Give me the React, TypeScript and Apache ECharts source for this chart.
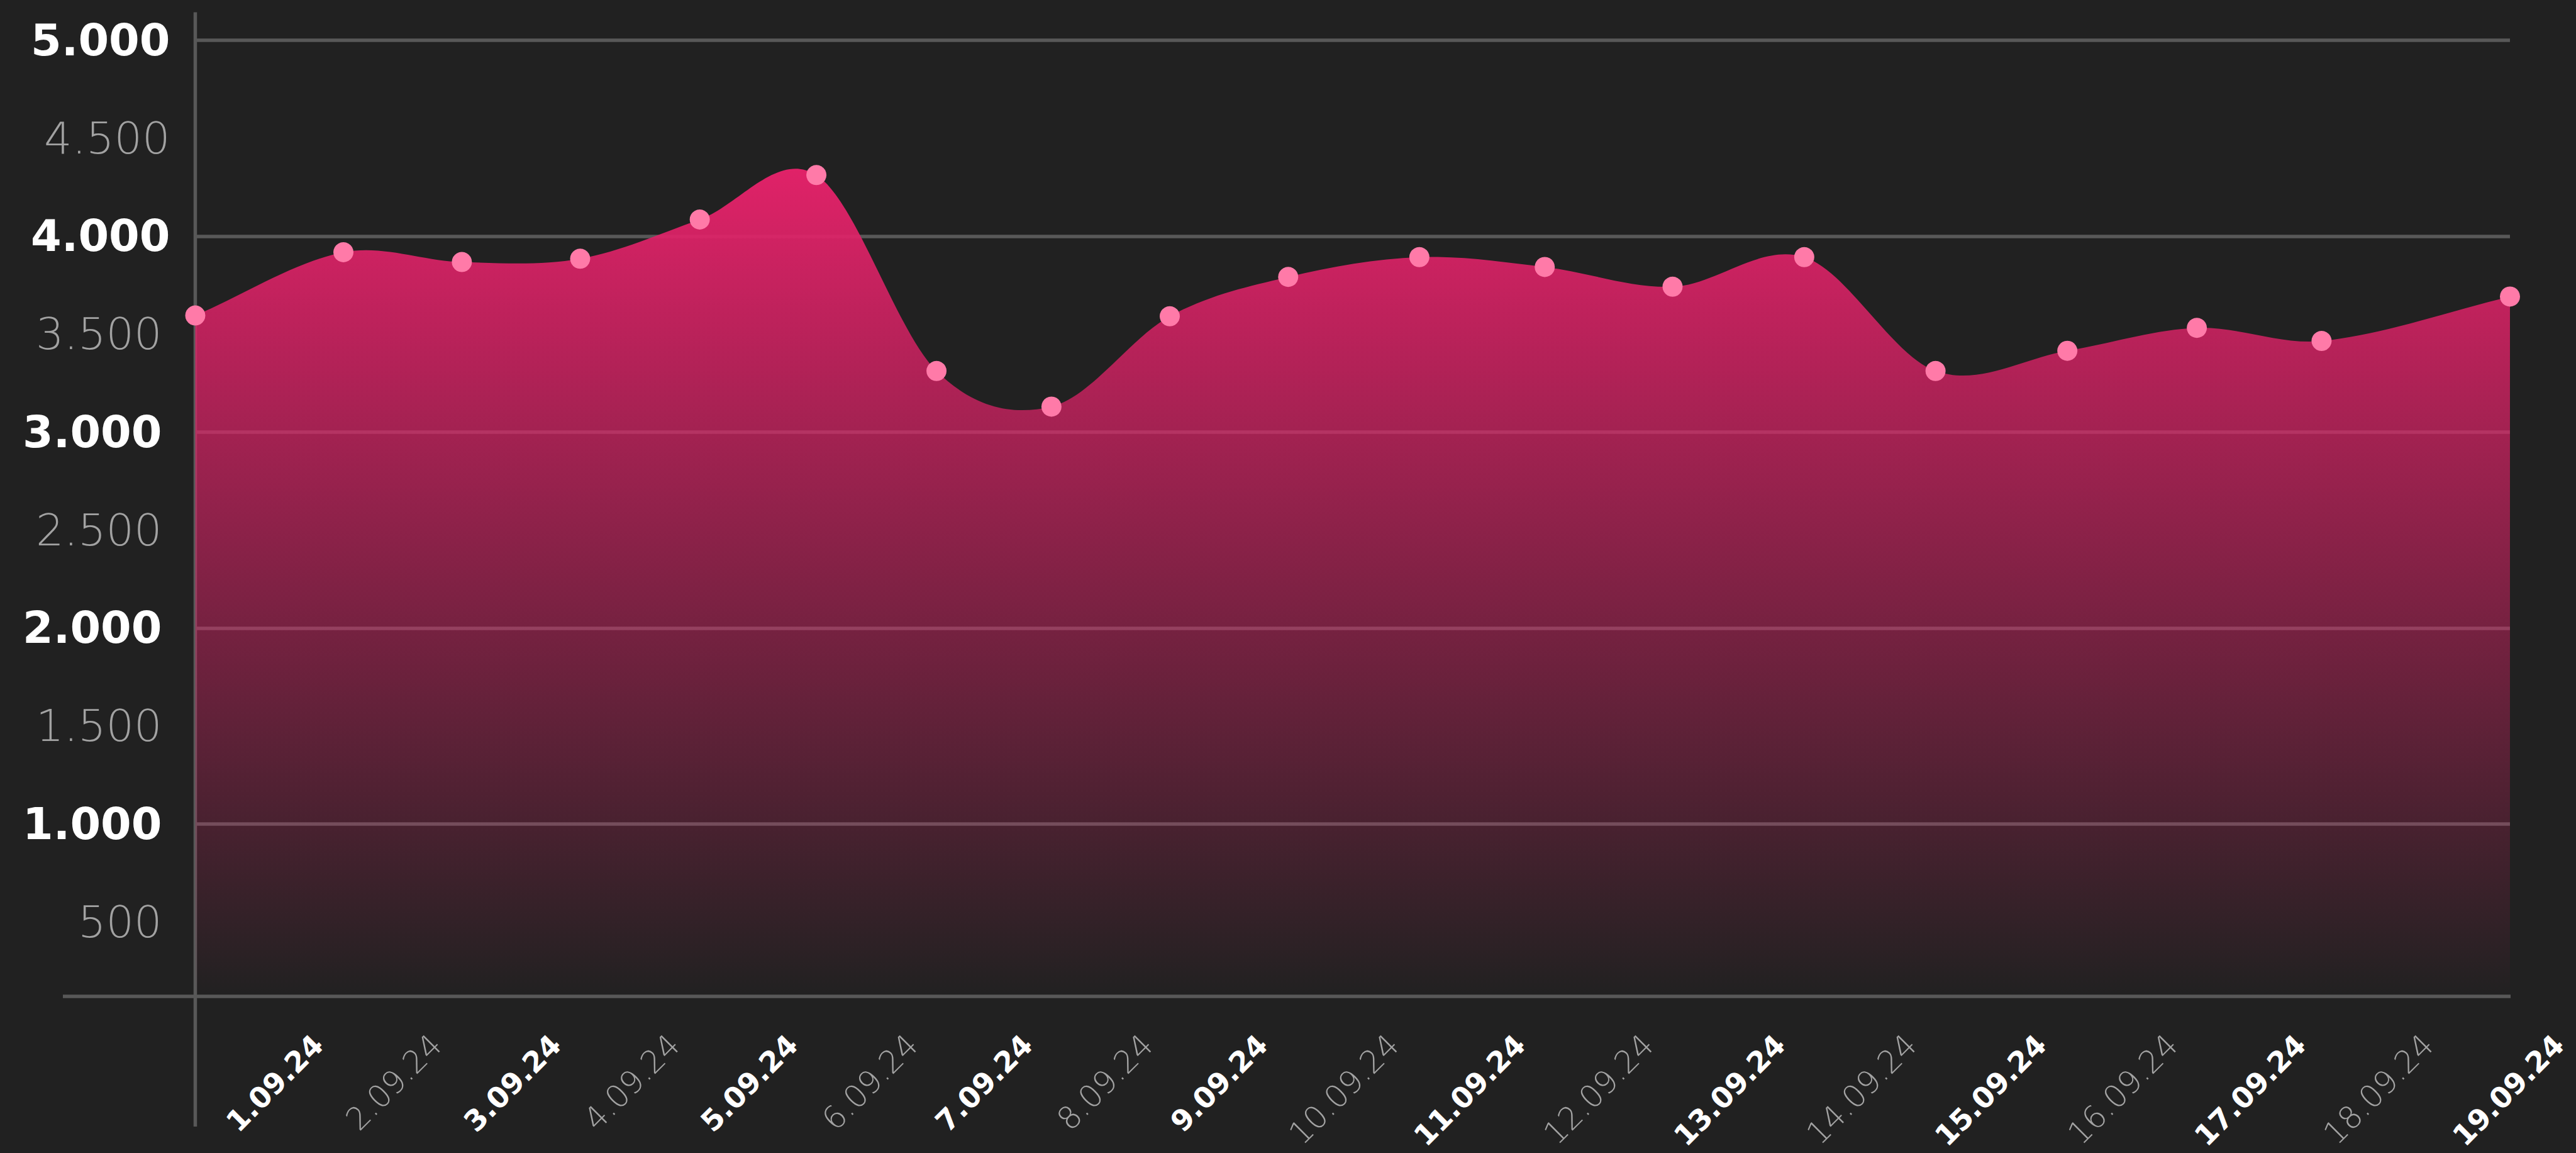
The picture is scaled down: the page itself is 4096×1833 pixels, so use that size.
import React, { useEffect, useRef } from 'react';
import * as echarts from 'echarts';

// ---- data ----
const dateLabels = [
  '1.09.24', '2.09.24', '3.09.24', '4.09.24', '5.09.24', '6.09.24', '7.09.24',
  '8.09.24', '9.09.24', '10.09.24', '11.09.24', '12.09.24', '13.09.24',
  '14.09.24', '15.09.24', '16.09.24', '17.09.24', '18.09.24', '19.09.24',
];
// where each date label sits along the time axis (in days from the first point)
const labelDays = [
  0.955, 1.875, 2.804, 3.725, 4.645, 5.578, 6.471, 7.405, 8.298, 9.318,
  10.302, 11.299, 12.324, 13.344, 14.354, 15.375, 16.372, 17.364, 18.38,
];
// x position of each measured point (days from the first point)
const pointDays = [
  0, 1.152, 2.073, 2.993, 3.923, 4.83, 5.764, 6.658, 7.578, 8.499,
  9.519, 10.494, 11.488, 12.512, 13.533, 14.558, 15.565, 16.535, 18,
];
const values = [
  3595, 3918, 3868, 3885, 4085, 4312, 3312, 3130, 3591, 3792,
  3893, 3843, 3742, 3893, 3312, 3415, 3532, 3465, 3692,
];
const yLabelValues = [500, 1000, 1500, 2000, 2500, 3000, 3500, 4000, 4500, 5000];
const yGridValues = [1000, 2000, 3000, 4000, 5000];
const Y_MIN = 120;
const Y_MAX = 5000;
const X_MIN = 0;
const X_MAX = 18;
const SMOOTH = 1; // 1 = Catmull-Rom style tangents

// ---- layout (px) ----
const W = 4096;
const H = 1833;
const GRID_LEFT = 310.5;
const GRID_RIGHT_EDGE = 3991;
const GRID_TOP = 64;
const GRID_BOTTOM_EDGE = 1584;
const AXIS_COLOR = '#585858';
const AXIS_W = 5.5;
const FONT = "'DejaVu Sans', sans-serif";
const GRAY = '#a2a2a2';

const fmtThousands = (v: number) => {
  const s = String(Math.round(v));
  return s.replace(/\B(?=(\d{3})+(?!\d))/g, '.');
};

// cubic Hermite (x-parametrised) spline through pixel points, closed to a baseline
function areaPath(pts: number[][], baseY: number, k: number): string {
  const n = pts.length;
  const slope = (a: number[], b: number[]) => (b[1] - a[1]) / (b[0] - a[0]);
  const m = pts.map((p, i) => {
    if (i === 0) return slope(pts[0], pts[1]);
    if (i === n - 1) return slope(pts[n - 2], pts[n - 1]);
    return slope(pts[i - 1], pts[i + 1]);
  });
  let d = `M${pts[0][0]},${baseY}L${pts[0][0]},${pts[0][1]}`;
  for (let i = 0; i < n - 1; i++) {
    const p0 = pts[i];
    const p1 = pts[i + 1];
    const h = (p1[0] - p0[0]) / 3 * k;
    const c1 = [p0[0] + h, p0[1] + m[i] * h];
    const c2 = [p1[0] - h, p1[1] - m[i + 1] * h];
    d += `C${c1[0]},${c1[1]},${c2[0]},${c2[1]},${p1[0]},${p1[1]}`;
  }
  d += `L${pts[n - 1][0]},${baseY}Z`;
  return d;
}

export default function App() {
  const ref = useRef<HTMLDivElement>(null);

  useEffect(() => {
    if (!ref.current) return;
    const chart = echarts.init(ref.current, undefined, { renderer: 'svg' });

    const labelAxisMax =
      X_MAX * (W - GRID_LEFT) / (GRID_RIGHT_EDGE - GRID_LEFT);

    const seriesData = pointDays.map((d, i) => [d, values[i]]);

    const option: any = {
      animation: false,
      backgroundColor: '#212121',
      grid: [
        {
          left: GRID_LEFT,
          right: W - GRID_RIGHT_EDGE,
          top: GRID_TOP,
          bottom: H - GRID_BOTTOM_EDGE,
          containLabel: false,
        },
        {
          left: GRID_LEFT,
          right: 0,
          top: GRID_TOP,
          bottom: H - GRID_BOTTOM_EDGE,
          containLabel: false,
        },
      ],
      xAxis: [
        {
          type: 'value',
          gridIndex: 0,
          min: X_MIN,
          max: X_MAX,
          axisLine: { show: false },
          axisTick: { show: false },
          axisLabel: { show: false },
          splitLine: { show: false },
        },
        {
          type: 'value',
          gridIndex: 1,
          min: X_MIN,
          max: labelAxisMax,
          axisLine: { show: false },
          axisTick: { show: false },
          splitLine: { show: false },
          axisLabel: {
            customValues: labelDays,
            rotate: 45,
            margin: 69,
            formatter: (v: number) => {
              let best = 0;
              for (let i = 1; i < labelDays.length; i++) {
                if (Math.abs(labelDays[i] - v) < Math.abs(labelDays[best] - v)) best = i;
              }
              const txt = dateLabels[best];
              return best % 2 === 0 ? `{b|${txt}}` : `{l|${txt}}`;
            },
            rich: {
              b: { fontFamily: FONT, fontWeight: 'bold', fontSize: 46, color: '#ffffff' },
              l: { fontFamily: FONT, fontWeight: 200, fontSize: 50, color: GRAY },
            },
          },
        },
      ],
      yAxis: [
        {
          type: 'value',
          gridIndex: 0,
          min: Y_MIN,
          max: Y_MAX,
          axisLine: { show: false },
          axisTick: { show: false, customValues: yGridValues },
          splitLine: { show: true, lineStyle: { color: AXIS_COLOR, width: AXIS_W } },
          axisLabel: {
            customValues: yLabelValues,
            margin: 40,
            formatter: (v: number) => {
              const t = fmtThousands(v);
              const major = v % 1000 === 0;
              const hi = v >= 4000;
              if (major) return hi ? `{bh|${t}}` : `{b|${t}}`;
              return hi ? `{lh|${t}}` : `{l|${t}}`;
            },
            rich: {
              bh: { fontFamily: FONT, fontWeight: 'bold', fontSize: 70, color: '#ffffff' },
              lh: { fontFamily: FONT, fontWeight: 200, fontSize: 70, color: GRAY },
              b: { fontFamily: FONT, fontWeight: 'bold', fontSize: 70, color: '#ffffff', padding: [0, 13, 0, 0] },
              l: { fontFamily: FONT, fontWeight: 200, fontSize: 70, color: GRAY, padding: [0, 13, 0, 0] },
            },
          },
        },
        {
          type: 'value',
          gridIndex: 1,
          show: false,
          min: 0,
          max: 1,
          splitLine: { show: false },
        },
      ],
      series: [
        {
          type: 'custom',
          coordinateSystem: 'cartesian2d',
          xAxisIndex: 0,
          yAxisIndex: 0,
          data: seriesData,
          encode: { x: 0, y: 1 },
          clip: false,
          z: 2,
          renderItem: (params: any, api: any) => {
            if (params.dataIndex !== 0) return null;
            const pts = seriesData.map((p) => api.coord(p));
            const baseY = api.coord([X_MIN, Y_MIN])[1];
            return {
              type: 'path',
              shape: { pathData: areaPath(pts, baseY, SMOOTH) },
              style: {
                fill: new echarts.graphic.LinearGradient(0, 0, 0, 1, [
                  { offset: 0, color: 'rgba(224,34,104,1)' },
                  { offset: 1, color: 'rgba(224,34,104,0)' },
                ]),
                stroke: null,
              },
            };
          },
        },
        {
          type: 'scatter',
          xAxisIndex: 0,
          yAxisIndex: 0,
          data: seriesData,
          symbol: 'circle',
          symbolSize: 32,
          clip: false,
          itemStyle: { color: '#FF7AA8', opacity: 1 },
          z: 3,
        },
      ],
      graphic: [
        {
          type: 'line',
          z: 1,
          shape: { x1: 100, y1: GRID_BOTTOM_EDGE, x2: GRID_RIGHT_EDGE + 1, y2: GRID_BOTTOM_EDGE },
          style: { stroke: AXIS_COLOR, lineWidth: AXIS_W },
        },
        {
          type: 'line',
          z: 1,
          shape: { x1: GRID_LEFT, y1: 19.5, x2: GRID_LEFT, y2: 1791 },
          style: { stroke: AXIS_COLOR, lineWidth: AXIS_W },
        },
      ],
    };

    chart.setOption(option);
    return () => chart.dispose();
  }, []);

  return (
    <div
      ref={ref}
      style={{
        position: 'fixed',
        left: 0,
        top: 0,
        width: W + 'px',
        height: H + 'px',
        background: '#212121',
      }}
    />
  );
}
